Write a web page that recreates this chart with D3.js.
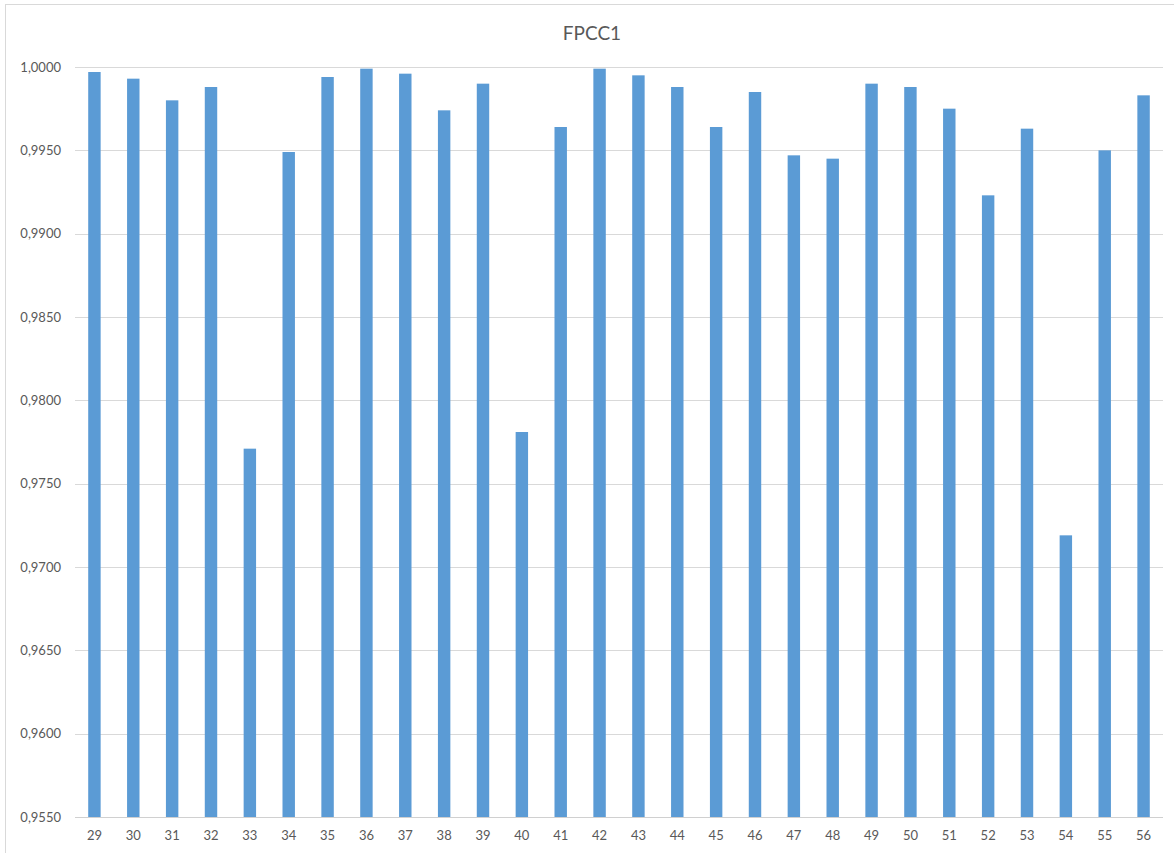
<!DOCTYPE html>
<html>
<head>
<meta charset="utf-8">
<script src="https://cdn.jsdelivr.net/npm/d3@7"></script>
<style>
  body { margin: 0; background: #fff; }
  #graf { width: 1174px; height: 853px; }
  text { font-family: Lato, "Noto Sans", sans-serif; fill: #595959; }
</style>
</head>
<body>
<div id="graf"></div>
<script>
const graf = d3.select("#graf")

const anchoTotal = 1174
const altoTotal = 853
const margins = { left: 75, top: 67, right: 11, bottom: 36 }
const ancho = anchoTotal - margins.left - margins.right
const alto = altoTotal - margins.top - margins.bottom

// Data
const categorias = [29, 30, 31, 32, 33, 34, 35, 36, 37, 38, 39, 40, 41, 42,
  43, 44, 45, 46, 47, 48, 49, 50, 51, 52, 53, 54, 55, 56]
const valores = [0.9997, 0.9993, 0.9980, 0.9988, 0.9771, 0.9949, 0.9994, 0.9999,
  0.9996, 0.9974, 0.9990, 0.9781, 0.9964, 0.9999, 0.9995, 0.9988, 0.9964, 0.9985,
  0.9947, 0.9945, 0.9990, 0.9988, 0.9975, 0.9923, 0.9963, 0.9719, 0.9950, 0.9983]
const yTicks = [0.955, 0.96, 0.965, 0.97, 0.975, 0.98, 0.985, 0.99, 0.995, 1.0]
const titulo = "FPCC1"

const data = categorias.map((c, i) => ({ cat: c, valor: valores[i] }))

const svg = graf
  .append("svg")
  .attr("width", anchoTotal)
  .attr("height", altoTotal)

// marco del grafico
svg.append("line")
  .attr("x1", 5).attr("x2", anchoTotal).attr("y1", 4.5).attr("y2", 4.5)
  .attr("stroke", "#d9d9d9")
svg.append("line")
  .attr("x1", 5.5).attr("x2", 5.5).attr("y1", 4).attr("y2", altoTotal)
  .attr("stroke", "#d9d9d9")

svg.append("text")
  .attr("x", 592)
  .attr("y", 40)
  .attr("text-anchor", "middle")
  .attr("font-size", 19)
  .text(titulo)

const g = svg
  .append("g")
  .attr("transform", `translate(${margins.left}, ${margins.top})`)

// Escaladores
const y = d3.scaleLinear()
  .domain([0.955, 1.0])
  .range([alto, 0])

const x = d3.scaleBand()
  .domain(categorias)
  .range([0, ancho])
  .padding(0)

const fmt = (d) => d3.format(".4f")(d).replace(".", ",")

// Grid
g.append("g")
  .selectAll("line")
  .data(yTicks)
  .join("line")
  .attr("x1", 0)
  .attr("x2", ancho)
  .attr("y1", (d) => Math.round(y(d)) + 0.5)
  .attr("y2", (d) => Math.round(y(d)) + 0.5)
  .attr("stroke", (d) => d === 0.955 ? "#d0d0d0" : "#d9d9d9")
  .attr("stroke-width", 1)

// Ejes
const yAxis = d3.axisLeft(y).tickValues(yTicks).tickFormat(fmt).tickSize(0).tickPadding(14)
const yAxisGroup = g.append("g").call(yAxis)
yAxisGroup.select(".domain").remove()
yAxisGroup.selectAll("text").attr("font-size", 13).attr("fill", "#595959")

const xAxis = d3.axisBottom(x).tickSize(0).tickPadding(14)
const xAxisGroup = g.append("g")
  .attr("transform", `translate(0, ${alto})`)
  .call(xAxis)
xAxisGroup.select(".domain").remove()
xAxisGroup.selectAll("text").attr("font-size", 13).attr("fill", "#595959")

// Barras
const anchoBarra = x.bandwidth() * 0.32
g.selectAll("rect.barra")
  .data(data)
  .join("rect")
  .attr("class", "barra")
  .attr("x", (d) => x(d.cat) + (x.bandwidth() - anchoBarra) / 2)
  .attr("y", (d) => y(d.valor))
  .attr("width", anchoBarra)
  .attr("height", (d) => y(0.955) - y(d.valor))
  .attr("fill", "#5b9bd5")
</script>
</body>
</html>
